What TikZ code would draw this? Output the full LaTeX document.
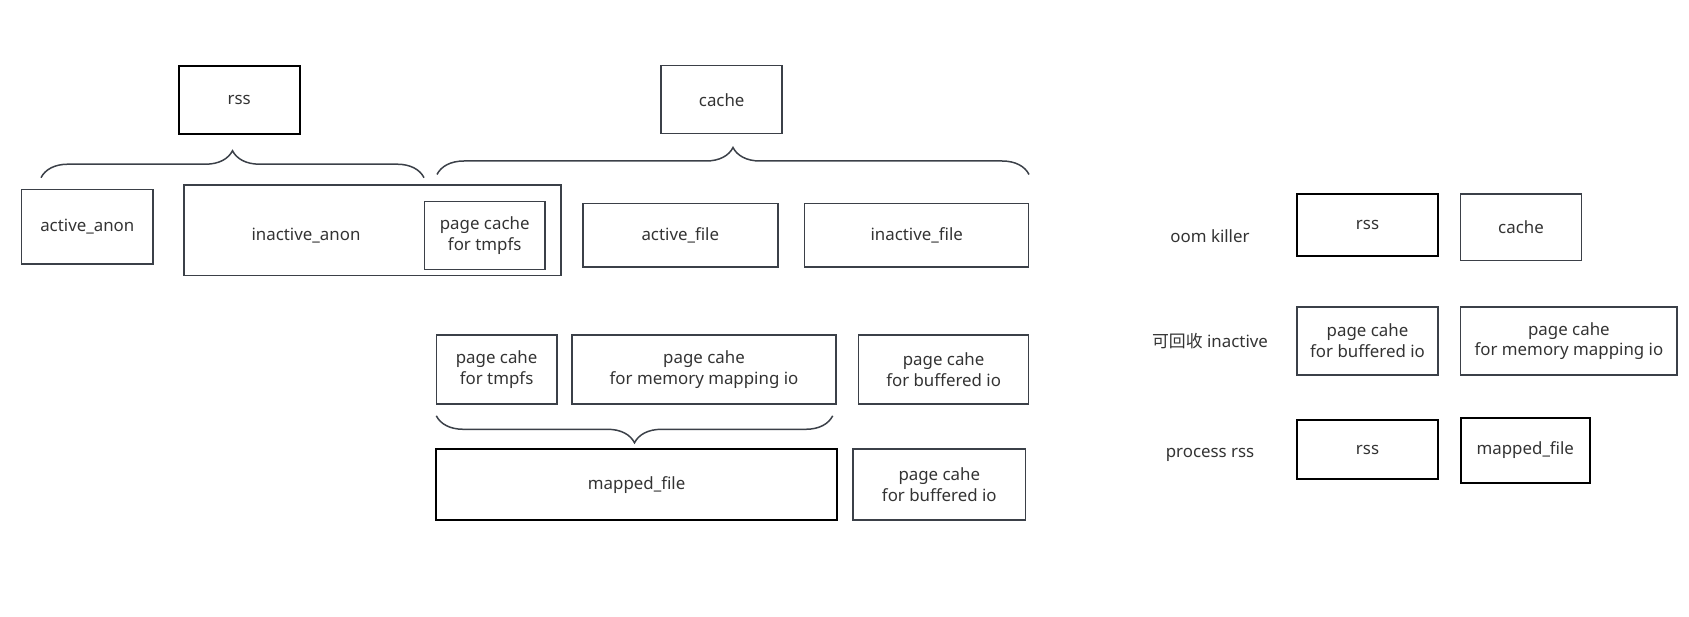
\documentclass[tikz,border=0pt]{standalone}
\usepackage{fontspec}
\setmainfont{Noto Sans}
\newfontfamily\cjk{Noto Sans CJK SC}
\usetikzlibrary{decorations.pathreplacing}
\definecolor{edgegray}{HTML}{3B4048}
\definecolor{textgray}{HTML}{333333}
\tikzset{
  box/.style={draw=edgegray,line width=0.85pt,inner sep=0pt,align=center,text=textgray},
  boldbox/.style={box,draw=black,line width=1.15pt},
  sz/.style 2 args={minimum width=#1*0.02cm,minimum height=#2*0.02cm},
  curly/.style={draw=edgegray,line width=0.85pt,decorate,
    decoration={brace,amplitude=0.54cm}},
  lbl/.style={text=textgray},
}
\begin{document}
\begin{tikzpicture}[x=0.02cm,y=-0.02cm,font=\fontsize{9.6}{11.8}\selectfont]
  \useasboundingbox (0,0) rectangle (1689,617);
  % top groups
  \node[boldbox,sz={121}{68}] (rss) at (239.2,99.7) {rss};
  \node[box,sz={121}{68}] (cache) at (721.7,99.7) {cache};
  \node[box,sz={131.5}{74.3}] (activeanon) at (87.3,226.8) {active\_anon};
  \node[box,sz={376.8}{90.5}] (inactiveanon) at (372.6,230.5) {};
  \node[lbl] (anonlbl) at (306,236) {inactive\_anon};
  \node[box,sz={120.6}{68}] (tmpfsin) at (484.7,235.4) {page cache\\for tmpfs};
  \node[box,sz={195}{63.5}] (activefile) at (680.3,235.4) {active\_file};
  \node[box,sz={224}{63.5}] (inactivefile) at (916.7,235.4) {inactive\_file};
  \coordinate (rssL) at (41,177.7);
  \coordinate (rssR) at (424,177.7);
  \coordinate (cacheL) at (437,174.5);
  \coordinate (cacheR) at (1029,174.5);
  \draw[curly] (rssL) -- (rssR);
  \draw[curly] (cacheL) -- (cacheR);
  % page cache split
  \node[box,sz={120.6}{69}] (tmpfs) at (496.6,369.5) {page cahe\\for tmpfs};
  \node[box,sz={264}{69}] (mmapio) at (704,369.5) {page cahe\\for memory mapping io};
  \node[box,sz={170}{69}] (bufio) at (943.6,369.5) {page cahe\\for buffered io};
  \node[boldbox,sz={400.7}{71}] (mapped) at (636.6,484.7) {mapped\_file};
  \node[box,sz={172.4}{71}] (bufio2) at (939.3,484.7) {page cahe\\for buffered io};
  \coordinate (mapL) at (436.3,415.8);
  \coordinate (mapR) at (832.7,415.8);
  \draw[curly] (mapR) -- (mapL);
  % right-hand summary
  \foreach \i/\y/\lab in {1/236/{oom killer},2/341.5/{{\cjk 可回收} inactive},3/454.6/{process rss}}
    \node[lbl] (row\i) at (1210,\y) {\lab};
  \node[boldbox,sz={141}{62.5}] (oomrss) at (1367.5,225) {rss};
  \node[box,sz={120.7}{66.8}] (oomcache) at (1521,227.3) {cache};
  \node[box,sz={141}{68}] (reclbuf) at (1367.5,341) {page cahe\\for buffered io};
  \node[box,sz={216.6}{68}] (reclmm) at (1568.9,341) {page cahe\\for memory mapping io};
  \node[boldbox,sz={141}{59.4}] (procrss) at (1367.5,449.7) {rss};
  \node[boldbox,sz={129.4}{64.6}] (procmap) at (1525.3,450.3) {mapped\_file};
\end{tikzpicture}
\end{document}
